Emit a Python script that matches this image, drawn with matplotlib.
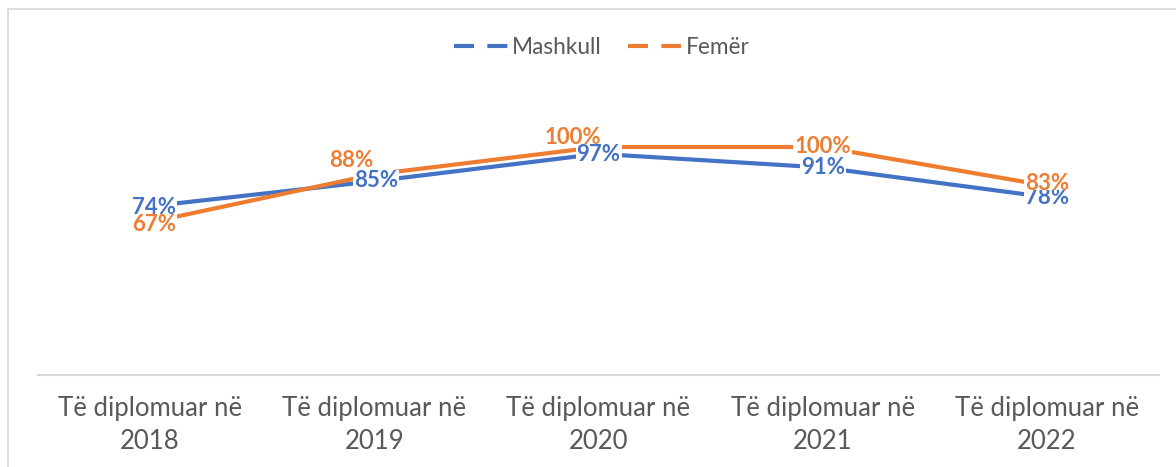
import matplotlib.pyplot as plt
from matplotlib.lines import Line2D
from matplotlib.patches import Rectangle

# 数据
categories = ['Të diplomuar në\n2018', 'Të diplomuar në\n2019', 'Të diplomuar në\n2020',
              'Të diplomuar në\n2021', 'Të diplomuar në\n2022']
mashkull = [0.74, 0.85, 0.97, 0.91, 0.78]
femer = [0.67, 0.88, 1.00, 1.00, 0.83]
series_names = ['Mashkull', 'Femër']

BLUE = '#4472C4'
ORANGE = '#ED7D31'
GRAY = '#595959'
LIGHT = '#D9D9D9'

W, H = 1176, 467
fig = plt.figure(figsize=(W / 100, H / 100), dpi=100)
# plot area in pixel coords (left, right, top, bottom)
l, r, t, b = 38, 1159, 101.4, 375
ax = fig.add_axes([l / W, 1 - b / H, (r - l) / W, (b - t) / H])

x = list(range(len(categories)))
ax.plot(x, mashkull, color=BLUE, lw=3, solid_joinstyle='round', zorder=2)
ax.plot(x, femer, color=ORANGE, lw=3, solid_joinstyle='round', zorder=2)

ax.set_xlim(-0.5, len(categories) - 0.5)
ax.set_ylim(0, 1.2)
ax.set_yticks([])
for s in ['top', 'right', 'left']:
    ax.spines[s].set_visible(False)
ax.spines['bottom'].set_color(LIGHT)
ax.spines['bottom'].set_linewidth(1.5)
ax.set_xticks(x)
ax.set_xticklabels(categories, fontsize=18.5, color=GRAY, family='Lato', linespacing=1.4)
ax.tick_params(axis='x', length=0, pad=15)

# 标签偏移(点)和层次
blue_off = [(3, -1), (1, 0.5), (0, -0.5), (0, 0), (0, 0)]
orange_off = [(3, -1.5), (-16.5, 10), (-18.5, 6.8), (0, 0), (0, 1.5)]
blue_z = [4, 4, 6, 4, 4]
labels = []
for i, v in enumerate(mashkull):
    labels.append(ax.annotate('%d%%' % round(v * 100), (i, v), xytext=blue_off[i],
                              textcoords='offset points', ha='center', va='center',
                              fontsize=16, fontweight='bold', family='Lato', color=BLUE,
                              zorder=blue_z[i], annotation_clip=False))
for i, v in enumerate(femer):
    labels.append(ax.annotate('%d%%' % round(v * 100), (i, v), xytext=orange_off[i],
                              textcoords='offset points', ha='center', va='center',
                              fontsize=16, fontweight='bold', family='Lato', color=ORANGE,
                              zorder=5, annotation_clip=False))

# white boxes behind the labels, only as tall as the digits
fig.canvas.draw()
renderer = fig.canvas.get_renderer()
for ann in labels:
    bb = ann.get_window_extent(renderer)
    fs = ann.get_fontsize() * fig.dpi / 72
    y0 = bb.y0 + 0.17 * fs
    y1 = bb.y1 - 0.02 * fs
    ax.add_artist(Rectangle((bb.x0 - 1, y0), bb.width + 2, y1 - y0, transform=None,
                            fc='white', ec='none', zorder=ann.get_zorder() - 0.5))

handles = [Line2D([], [], color=BLUE, lw=3, linestyle=(0, (4.8, 3.2))),
           Line2D([], [], color=ORANGE, lw=3, linestyle=(0, (4.8, 3.2)))]
leg = fig.legend(handles, series_names, loc='center', bbox_to_anchor=(602 / W, 1 - 47 / H),
                 ncol=2, frameon=False, handlelength=2.35, handletextpad=0.2,
                 columnspacing=1.15, prop={'family': 'Lato', 'size': 16.3})
for txt in leg.get_texts():
    txt.set_color(GRAY)

# chart border (left and top edges visible)
fig.add_artist(Line2D([8 / W, 8 / W], [0, 1 - 9 / H], color=LIGHT, lw=1.2))
fig.add_artist(Line2D([8 / W, 1], [1 - 9 / H, 1 - 9 / H], color=LIGHT, lw=1.2))

fig.savefig('out.png', dpi=100)
